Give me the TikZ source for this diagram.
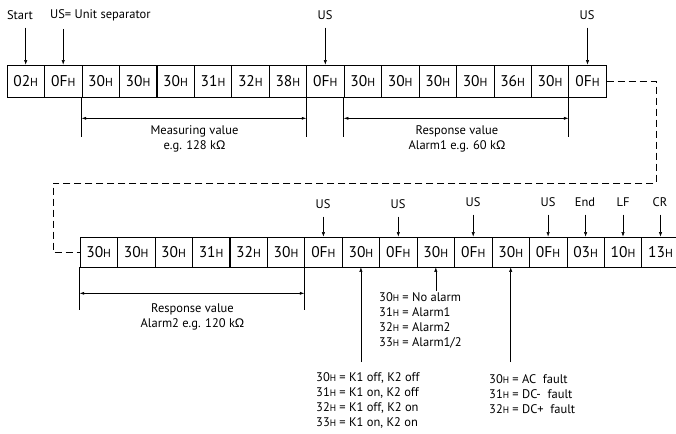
\documentclass[tikz,border=0pt]{standalone}
\usepackage{fontspec}
\setmainfont{PT Sans}
\newfontfamily\grkfont{Liberation Sans}
\usetikzlibrary{arrows.meta}
\newcommand{\hx}[1]{#1\scalebox{0.75}{H}}
\newcommand{\kohm}{k{\grkfont Ω}}

\begin{document}
\begin{tikzpicture}[x=1pt, y=-1pt,
    cell/.style={draw, line width=0.6pt, inner sep=0pt, minimum width=37.45pt, font=\fontsize{15.5}{15.5}\selectfont},
    toprow/.style={cell, minimum height=32pt},
    botrow/.style={cell, minimum height=30pt},
    lbl/.style={inner sep=1pt, font=\fontsize{12.5}{15}\selectfont},
    pointer/.style={-{Latex[length=4.5pt,width=3.2pt]}, line width=0.5pt},
    span/.style={{Latex[length=4.5pt,width=3pt]}-{Latex[length=4.5pt,width=3pt]}, line width=0.5pt},
    bracket/.style={line width=1.2pt},
    wrap/.style={dash pattern=on 7pt off 4pt, line width=0.6pt}]

    \useasboundingbox (0,0) rectangle (676,433);

    % first telegram row
    \node[toprow] (a1) at (25.7,81) {\hx{02}};
    \node[toprow] (a2) at (63.2,81) {\hx{0F}};
    \node[toprow] (a3) at (100.6,81) {\hx{30}};
    \node[toprow] (a4) at (138.1,81) {\hx{30}};
    \node[toprow] (a5) at (175.5,81) {\hx{30}};
    \node[toprow] (a6) at (213.0,81) {\hx{31}};
    \node[toprow] (a7) at (250.4,81) {\hx{32}};
    \node[toprow] (a8) at (287.9,81) {\hx{38}};
    \node[toprow] (a9) at (325.3,81) {\hx{0F}};
    \node[toprow] (a10) at (362.8,81) {\hx{30}};
    \node[toprow] (a11) at (400.2,81) {\hx{30}};
    \node[toprow] (a12) at (437.7,81) {\hx{30}};
    \node[toprow] (a13) at (475.1,81) {\hx{30}};
    \node[toprow] (a14) at (512.6,81) {\hx{36}};
    \node[toprow] (a15) at (550.0,81) {\hx{30}};
    \node[toprow] (a16) at (587.5,81) {\hx{0F}};

    % second telegram row
    \node[botrow] (b1) at (98.7,252) {\hx{30}};
    \node[botrow] (b2) at (136.2,252) {\hx{30}};
    \node[botrow] (b3) at (173.6,252) {\hx{30}};
    \node[botrow] (b4) at (211.1,252) {\hx{31}};
    \node[botrow] (b5) at (248.5,252) {\hx{32}};
    \node[botrow] (b6) at (286.0,252) {\hx{30}};
    \node[botrow] (b7) at (323.4,252) {\hx{0F}};
    \node[botrow] (b8) at (360.9,252) {\hx{30}};
    \node[botrow] (b9) at (398.3,252) {\hx{0F}};
    \node[botrow] (b10) at (435.8,252) {\hx{30}};
    \node[botrow] (b11) at (473.2,252) {\hx{0F}};
    \node[botrow] (b12) at (510.7,252) {\hx{30}};
    \node[botrow] (b13) at (548.1,252) {\hx{0F}};
    \node[botrow] (b14) at (585.6,252) {\hx{03}};
    \node[botrow] (b15) at (623.0,252) {\hx{10}};
    \node[botrow] (b16) at (660.5,252) {\hx{13}};

    % labels above first row
    \node[lbl] (lStart) at (20,15) {Start};
    \node[lbl, anchor=west] (lSep) at (49,15) {US= Unit separator};
    \node[lbl] (lUsA) at (325,15) {US};
    \node[lbl] (lUsB) at (587,15) {US};

    \draw[pointer, shorten <=7pt] (a1.north |- lStart.south) -- (a1.north);
    \draw[pointer, shorten <=7pt] (a2.north |- lSep.south) -- (a2.north);
    \draw[pointer, shorten <=7pt] (a9.north |- lUsA.south) -- (a9.north);
    \draw[pointer, shorten <=7pt] (a16.north |- lUsB.south) -- (a16.north);

    % labels above second row
    \node[lbl] (lUsC) at (323,204) {US};
    \node[lbl] (lUsD) at (398,204) {US};
    \node[lbl] (lUsE) at (473,202) {US};
    \node[lbl] (lUsF) at (548,202) {US};
    \node[lbl] (lEnd) at (585,202) {End};
    \node[lbl] (lLf) at (623,202) {LF};
    \node[lbl] (lCr) at (660,202) {CR};

    \draw[pointer, shorten <=7pt] (b7.north |- lUsC.south) -- (b7.north);
    \draw[pointer, shorten <=7pt] (b9.north |- lUsD.south) -- (b9.north);
    \draw[pointer, shorten <=7pt] (b11.north |- lUsE.south) -- (b11.north);
    \draw[pointer, shorten <=7pt] (b13.north |- lUsF.south) -- (b13.north);
    \draw[pointer, shorten <=7pt] (b14.north |- lEnd.south) -- (b14.north);
    \draw[pointer, shorten <=7pt] (b15.north |- lLf.south) -- (b15.north);
    \draw[pointer, shorten <=7pt] (b16.north |- lCr.south) -- (b16.north);

    % value spans
    \draw[bracket] (a3.south west) -- ++(0,40);
    \draw[bracket] (a9.south west) -- ++(0,40);
    \draw[span] ([yshift=-21pt]a3.south west) -- ([yshift=-21pt]a9.south west);
    \node[lbl, align=center] (mvText) at (194.5,138.5) {Measuring value\\e.g. 128 \kohm};

    \draw[bracket] (a10.south west) -- ++(0,40);
    \draw[bracket] (a16.south west) -- ++(0,40);
    \draw[span] ([yshift=-21pt]a10.south west) -- ([yshift=-21pt]a16.south west);
    \node[lbl, align=center] (rvaText) at (457,138.5) {Response value\\Alarm1 e.g. 60 \kohm};

    \draw[bracket] (b1.south west) -- ++(0,43);
    \draw[bracket] (b7.south west) -- ++(0,43);
    \draw[span] ([yshift=-26pt]b1.south west) -- ([yshift=-26pt]b7.south west);
    \node[lbl, align=center] (rvbText) at (192.5,317) {Response value\\Alarm2 e.g. 120 \kohm};

    % continuation of the telegram
    \coordinate (wrapR) at (656,183);
    \coordinate (wrapL) at (53,252);
    \draw[wrap] (a16.east) -| (wrapR) -| (wrapL) -- (b1.west);

    % status codes
    \node[lbl, anchor=north west, align=left] (alarmInfo) at (378,291)
        {\hx{30} = No alarm\\\hx{31} = Alarm1\\\hx{32} = Alarm2\\\hx{33} = Alarm1/2};
    \node[lbl, anchor=north west, align=left] (relayInfo) at (315,371)
        {\hx{30} = K1 off, K2 off\\\hx{31} = K1 on, K2 off\\\hx{32} = K1 off, K2 on\\\hx{33} = K1 on, K2 on};
    \node[lbl, anchor=north west, align=left] (faultInfo) at (488,373)
        {\hx{30} = AC~ fault\\\hx{31} = DC-~ fault\\\hx{32} = DC+~ fault};

    \draw[pointer] (b10.south |- alarmInfo.north) -- (b10.south);
    \draw[pointer, shorten <=9pt] (b8.south |- relayInfo.north) -- (b8.south);
    \draw[pointer, shorten <=11pt] (b12.south |- faultInfo.north) -- (b12.south);

\end{tikzpicture}
\end{document}
